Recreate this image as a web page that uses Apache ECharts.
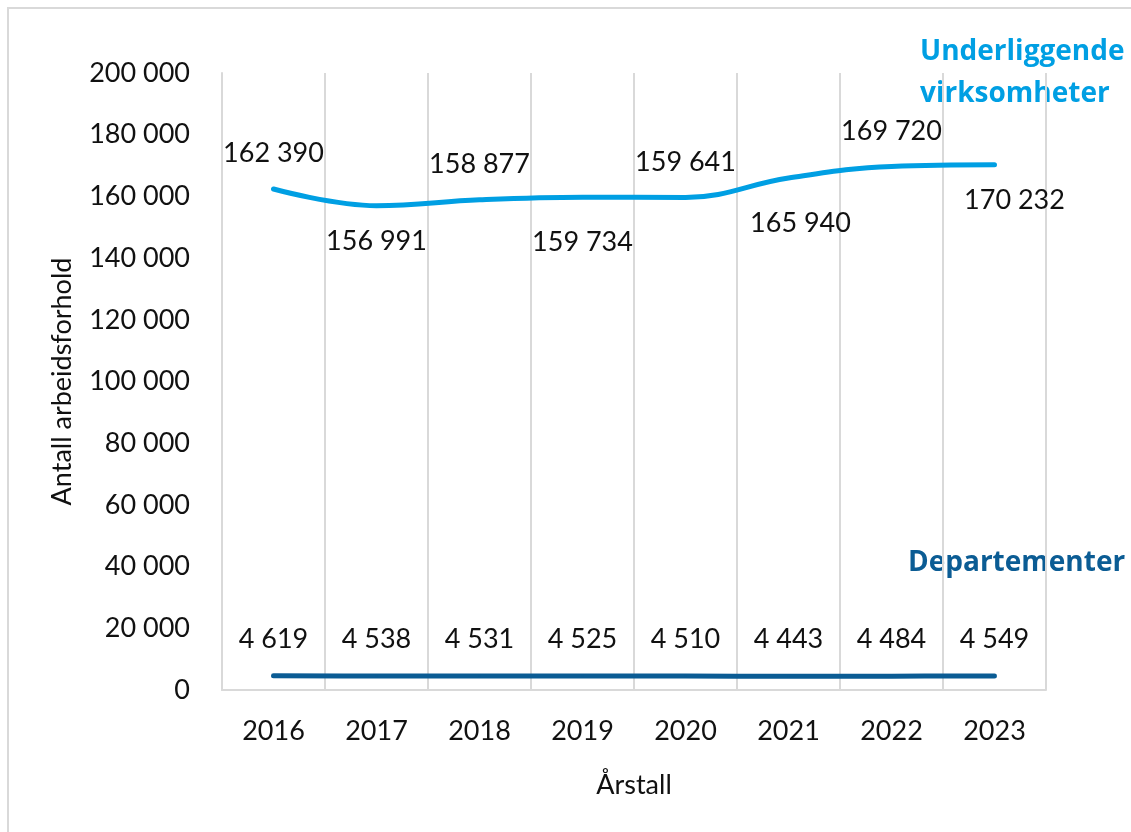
<!DOCTYPE html>
<html>
<head>
<meta charset="utf-8">
<script src="https://cdn.jsdelivr.net/npm/echarts@6/dist/echarts.min.js"></script>
<style>
  html, body { margin: 0; padding: 0; background: #fff; }
  #chart { width: 1131px; height: 832px; }
</style>
</head>
<body>
<div id="chart"></div>
<script>
const years = ["2016", "2017", "2018", "2019", "2020", "2021", "2022", "2023"];
const underliggende = [162390, 156991, 158877, 159734, 159641, 165940, 169720, 170232];
const departementer = [4619, 4538, 4531, 4525, 4510, 4443, 4484, 4549];
// which labels of the upper line sit above (true) or below (false)
const upperLabelAbove = [true, false, true, false, true, false, true, false];

const fontFamily = "Lato, 'Open Sans', sans-serif";
const boldFamily = "'Open Sans', Lato, sans-serif";
const lightBlue = "#009fe3";
const darkBlue = "#0b5c94";
const gridGrey = "#d9d9d9";

// "162390" -> "162 390"
const fmt = v => String(v).replace(/\B(?=(\d{3})+(?!\d))/g, " ");

// small nudges so the labels sit where they do in the original
const labelOffsets = [[0, 0], [0, 0], [0, 0], [0, 10], [0, 0], [12, 10], [0, 0], [20, 0]];

const chart = echarts.init(document.getElementById("chart"));

const option = {
  backgroundColor: "#fff",
  animation: false,
  textStyle: { fontFamily: fontFamily },
  grid: { left: 222, right: 85, top: 73, bottom: 142 },
  graphic: [
    {
      type: "rect",
      shape: { x: 8, y: 8, width: 1200, height: 900 },
      style: { fill: "none", stroke: gridGrey, lineWidth: 2 },
      silent: true
    },
    {
      type: "text",
      left: 920,
      top: 31,
      style: {
        text: "Underliggende\nvirksomheter",
        fill: lightBlue,
        font: "bold 28px " + boldFamily,
        lineHeight: 42,
        align: "left"
      }
    },
    {
      type: "text",
      left: 908,
      top: 549,
      style: {
        text: "Departementer",
        fill: darkBlue,
        font: "bold 28px " + boldFamily
      }
    }
  ],
  xAxis: {
    type: "category",
    data: years,
    boundaryGap: true,
    name: "Årstall",
    nameLocation: "middle",
    nameGap: 82,
    nameTextStyle: { fontSize: 27, color: "#111" },
    axisLine: { lineStyle: { color: gridGrey, width: 2 } },
    axisTick: { show: false },
    axisLabel: { fontSize: 27, color: "#111", margin: 28 },
    splitLine: { show: true, lineStyle: { color: gridGrey, width: 2 } }
  },
  yAxis: {
    type: "value",
    min: 0,
    max: 200000,
    interval: 20000,
    name: "Antall arbeidsforhold",
    nameLocation: "middle",
    nameGap: 146,
    nameTextStyle: { fontSize: 27, color: "#111" },
    axisLine: { show: true, lineStyle: { color: gridGrey, width: 2 } },
    axisTick: { show: false },
    splitLine: { show: false },
    axisLabel: { fontSize: 27, color: "#111", margin: 32, formatter: v => fmt(v) }
  },
  series: [
    {
      name: "Underliggende virksomheter",
      type: "line",
      smooth: 0.4,
      symbol: "circle",
      symbolSize: 2,
      showSymbol: true,
      showAllSymbol: true,
      data: underliggende.map((v, i) => ({
        value: v,
        label: {
          position: upperLabelAbove[i] ? "top" : "bottom",
          offset: labelOffsets[i]
        }
      })),
      lineStyle: { color: lightBlue, width: 5, cap: "round" },
      itemStyle: { color: lightBlue, borderWidth: 0 },
      label: {
        show: true,
        distance: 21,
        fontSize: 27,
        color: "#111",
        formatter: p => fmt(p.value)
      }
    },
    {
      name: "Departementer",
      type: "line",
      smooth: 0.4,
      symbol: "circle",
      symbolSize: 2,
      showSymbol: true,
      showAllSymbol: true,
      data: departementer,
      lineStyle: { color: darkBlue, width: 5, cap: "round" },
      itemStyle: { color: darkBlue, borderWidth: 0 },
      label: {
        show: true,
        position: "top",
        distance: 22,
        fontSize: 27,
        color: "#111",
        formatter: p => fmt(p.value)
      }
    }
  ]
};

chart.setOption(option);
</script>
</body>
</html>
